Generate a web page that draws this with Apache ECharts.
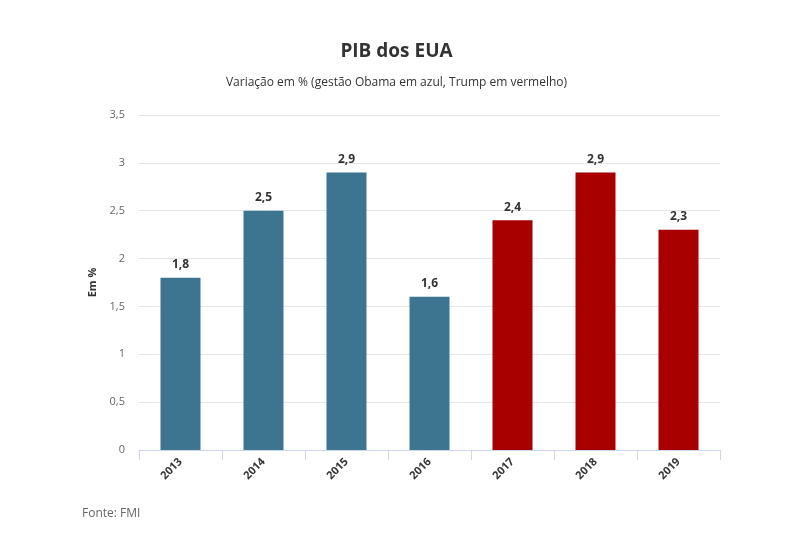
<!DOCTYPE html>
<html><head><meta charset="utf-8">
<script src="https://cdn.jsdelivr.net/npm/echarts@6/dist/echarts.min.js"></script>
<style>html,body{margin:0;padding:0;background:#fff}#c{width:793px;height:534px}</style>
</head><body><div id="c"></div>
<script>
const categories = ['2013','2014','2015','2016','2017','2018','2019'];
const values = [1.8, 2.5, 2.9, 1.6, 2.4, 2.9, 2.3];
const administration = ['Obama','Obama','Obama','Obama','Trump','Trump','Trump'];
const colors = {Obama:'#3d7590', Trump:'#a80000'};
const yTicks = {min:0, max:3.5, interval:0.5};

const chart = echarts.init(document.getElementById('c'), null, {renderer:'canvas'});
const fmt = v => String(v).replace('.', ',');
chart.setOption({
  animation:false,
  textStyle:{fontFamily:'Open Sans'},
  title:[
    {text:'PIB dos EUA', left:'center', top:37, textStyle:{fontFamily:'Open Sans', fontSize:19, fontWeight:'bold', color:'#333'}},
    {text:'Variação em % (gestão Obama em azul, Trump em vermelho)', left:'center', top:72, textStyle:{fontFamily:'Open Sans', fontSize:12, fontWeight:'normal', color:'#333'}},
    {text:'Fonte: FMI', left:77, top:503, textStyle:{fontFamily:'Open Sans', fontSize:12, fontWeight:'normal', color:'#666'}}
  ],
  grid:{left:139, right:73, top:115, bottom:84, containLabel:false},
  xAxis:{
    type:'category', data:categories,
    axisLine:{lineStyle:{color:'#ccd6eb'}},
    axisTick:{show:true, length:10, lineStyle:{color:'#ccd6eb'}},
    axisLabel:{rotate:45, fontFamily:'Open Sans', fontSize:11, fontWeight:'bold', color:'#333', margin:10}
  },
  yAxis:{
    type:'value', min:yTicks.min, max:yTicks.max, interval:yTicks.interval,
    name:'Em %', nameLocation:'middle', nameGap:40,
    nameTextStyle:{fontFamily:'Open Sans', fontSize:11, fontWeight:'bold', color:'#333'},
    axisLine:{show:false}, axisTick:{show:false},
    splitLine:{lineStyle:{color:'#e6e6e6'}},
    axisLabel:{fontFamily:'Open Sans', fontSize:11, color:'#666', margin:14, formatter:fmt}
  },
  series:[{
    type:'bar', barWidth:40,
    data: values.map((v,i)=>({value:v, itemStyle:{color:colors[administration[i]]}})),
    label:{show:true, position:'top', distance:7, fontFamily:'Open Sans', fontSize:12, fontWeight:'bold', color:'#333', formatter:p=>fmt(p.value)}
  }]
});
</script></body></html>
